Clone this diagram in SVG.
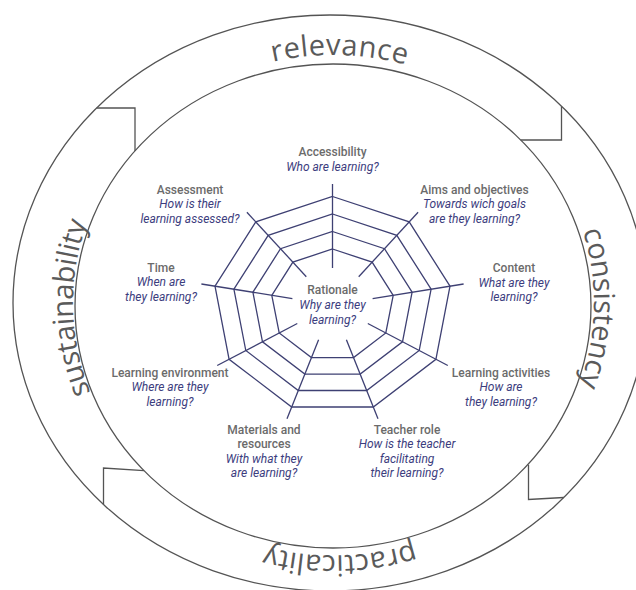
<svg xmlns="http://www.w3.org/2000/svg" width="636" height="590" viewBox="0 0 636 590">
<style>
.ring{fill:none;stroke:#545454;stroke-width:1.3}
.web{fill:none;stroke:#3e4073;stroke-width:1.3;stroke-linejoin:miter}
.rt{font-family:"Open Sans","Noto Sans",sans-serif;font-size:29px;fill:#5a5a5a}
.lbl{font-family:Roboto,"Liberation Sans",sans-serif;font-size:12px;text-anchor:middle}
.h{fill:#6b6b6b;font-weight:500}
.q{fill:#3c3d7e;font-style:italic}
</style>
<defs>
<path id="pRel" d="M111.2,173.7 A260.5,248 0 0 1 562.3,184.4"/>
<path id="pCon" d="M468.3,90.8 A260.5,248 0 0 1 459.2,520.2"/>
<path id="pPra" d="M562.3,424.6 A260.5,251 0 0 1 111.2,435.3"/>
<path id="pSus" d="M207.8,520.2 A260.5,248 0 0 1 198.7,90.8"/>
</defs>
<rect width="636" height="590" fill="#ffffff"/>
<g id="ring">
<ellipse class="ring" cx="330" cy="303" rx="317" ry="288"/>
<ellipse class="ring" cx="333" cy="306" rx="258" ry="242"/>
<polyline class="ring" points="96.7,108 135,108 135,150.9"/>
<polyline class="ring" points="561.5,106.3 561.5,140 520.7,140"/>
<polyline class="ring" points="528.5,464.7 528.5,499.5 563.8,497.5"/>
<polyline class="ring" points="144,470.7 103.5,468 103.5,504.5"/>
</g>
<g id="ring-labels">
<text id="relevance" class="rt" letter-spacing="0.5"><textPath href="#pRel" startOffset="50%" text-anchor="middle">relevance</textPath></text>
<text id="consistency" class="rt"><textPath href="#pCon" startOffset="50%" text-anchor="middle">consistency</textPath></text>
<text id="practicality" class="rt" font-size="30.5" letter-spacing="0.3"><textPath href="#pPra" startOffset="50%" text-anchor="middle">practicality</textPath></text>
<text id="sustainability" class="rt" letter-spacing="-0.3"><textPath href="#pSus" startOffset="50%" text-anchor="middle">sustainability</textPath></text>
</g>
<g id="web">
<polygon class="web" points="332.5,249 372.1,262.1 393.2,295.3 385.8,333 353.6,357.6 311.4,357.6 279.2,333 271.8,295.3 292.9,262.1"/>
<polygon class="web" points="332.5,231.5 384.5,248.7 412.1,292.2 402.5,341.8 360.2,374.1 304.8,374.1 262.5,341.8 252.9,292.2 280.5,248.7"/>
<polygon class="web" points="332.5,214 396.8,235.3 431.1,289.2 419.2,350.5 366.7,390.5 298.3,390.5 245.8,350.5 233.9,289.2 268.2,235.3"/>
<polygon class="web" points="332.5,196.5 409.2,221.9 450,286.2 435.9,359.3 373.3,407 291.7,407 229.1,359.3 215,286.2 255.8,221.9"/>
</g>
<g id="connectors">
<line class="web" x1="332.5" y1="268" x2="332.5" y2="184"/>
<line class="web" x1="358.7" y1="276.7" x2="418.1" y2="212.3"/>
<line class="web" x1="372.6" y1="298.6" x2="463.6" y2="284"/>
<line class="web" x1="367.8" y1="323.5" x2="447.8" y2="365.5"/>
<line class="web" x1="346.4" y1="339.8" x2="378" y2="418.7"/>
<line class="web" x1="318.6" y1="339.8" x2="287" y2="418.7"/>
<line class="web" x1="297.3" y1="323.5" x2="217.2" y2="365.5"/>
<line class="web" x1="292.4" y1="298.6" x2="201.4" y2="284"/>
<line class="web" x1="306.3" y1="276.7" x2="246.9" y2="212.3"/>
</g>
<g id="node-rationale" class="lbl"><text x="332.5" y="294.3" class="h">Rationale</text><text x="332.5" y="309" class="q">Why are they</text><text x="332.5" y="323.5" class="q">learning?</text></g>
<g id="node-accessibility" class="lbl"><text x="332.5" y="156" class="h">Accessibility</text><text x="332.5" y="171" class="q">Who are learning?</text></g>
<g id="node-aims" class="lbl"><text x="474.5" y="193.6" class="h">Aims and objectives</text><text x="474.5" y="208.1" class="q">Towards wich goals</text><text x="474.5" y="222.6" class="q">are they learning?</text></g>
<g id="node-content" class="lbl"><text x="514" y="272" class="h">Content</text><text x="514" y="286.5" class="q">What are they</text><text x="514" y="301" class="q">learning?</text></g>
<g id="node-activities" class="lbl"><text x="501" y="376.6" class="h">Learning activities</text><text x="501" y="391.1" class="q">How are</text><text x="501" y="405.6" class="q">they learning?</text></g>
<g id="node-teacher" class="lbl"><text x="407" y="433.6" class="h">Teacher role</text><text x="407" y="448.1" class="q">How is the teacher</text><text x="407" y="462.6" class="q">facilitating</text><text x="407" y="477.1" class="q">their learning?</text></g>
<g id="node-materials" class="lbl"><text x="264" y="433.6" class="h">Materials and</text><text x="264" y="448.1" class="h">resources</text><text x="264" y="462.6" class="q">With what they</text><text x="264" y="477.1" class="q">are learning?</text></g>
<g id="node-environment" class="lbl"><text x="170" y="376.6" class="h">Learning environment</text><text x="170" y="391.1" class="q">Where are they</text><text x="170" y="405.6" class="q">learning?</text></g>
<g id="node-time" class="lbl"><text x="161" y="271.5" class="h">Time</text><text x="161" y="286" class="q">When are</text><text x="161" y="300.5" class="q">they learning?</text></g>
<g id="node-assessment" class="lbl"><text x="190" y="193.6" class="h">Assessment</text><text x="190" y="208.1" class="q">How is their</text><text x="190" y="222.6" class="q">learning assessed?</text></g>
</svg>
